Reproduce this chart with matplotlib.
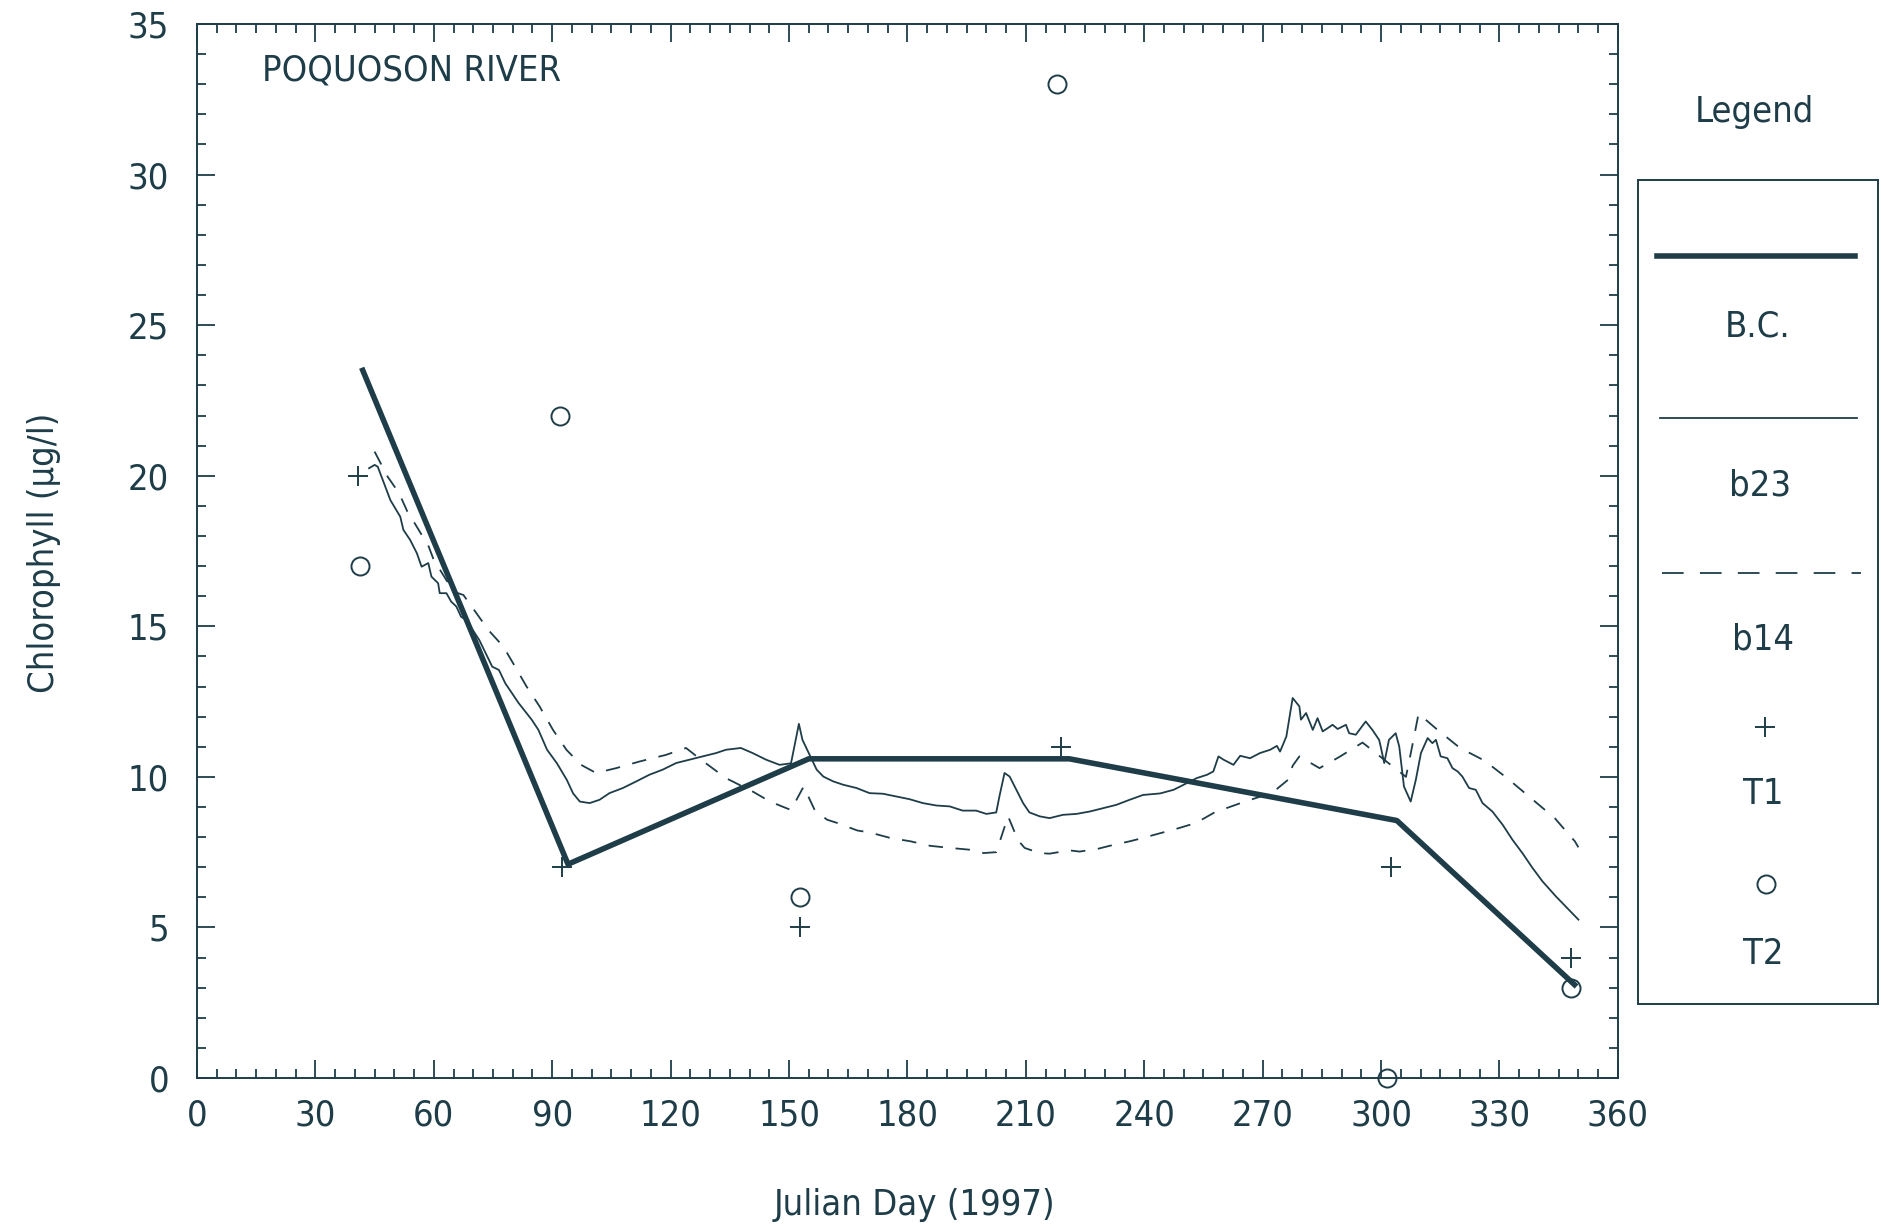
import numpy as np
import matplotlib
matplotlib.use("Agg")
import matplotlib.pyplot as plt
from matplotlib import font_manager
from matplotlib.ticker import MultipleLocator

# ---- data ----
bc_day = [42, 94, 155, 221, 304, 349]
bc_val = [23.5, 7.1, 10.6, 10.6, 8.55, 3.1]

b23_day = [43.6, 45.0, 45.8, 47.4, 49.0, 51.5, 52.3, 54.0, 55.7, 56.9, 58.6, 59.4,
           61.1, 61.5, 63.2, 64.4, 65.7, 66.9, 68.2, 71.5, 74.8, 76.5, 78.1, 81.5,
           84.8, 86.5, 88.7, 91.2, 93.7, 95.3, 97.0, 99.5, 102.0, 104.5, 107.9, 111.3,
           114.6, 118.0, 121.4, 124.7, 128.1, 131.5, 134.0, 137.8, 140.8, 144.2, 147.6,
           150.5, 152.5, 153.4, 154.6, 155.8, 157.0, 158.7, 161.2, 163.7, 167.1, 170.4,
           173.8, 177.2, 180.5, 183.9, 187.3, 190.7, 194.0, 197.4, 200.0, 202.5, 203.3,
           204.6, 205.9, 207.6, 209.3, 210.9, 213.5, 216.0, 219.4, 222.8, 226.2, 229.5,
           232.9, 236.3, 239.7, 244.0, 247.4, 249.1, 253.3, 255.9, 257.5, 258.8, 260.1,
           262.6, 264.3, 266.8, 269.3, 271.9, 273.6, 274.4, 276.0, 277.6, 279.3, 279.7,
           281.0, 282.7, 283.9, 285.2, 286.5, 287.7, 289.0, 291.1, 291.9, 293.6, 296.1,
           297.8, 299.5, 299.9, 300.8, 302.0, 303.7, 304.6, 305.8, 307.5, 308.8, 310.1,
           311.8, 313.0, 313.9, 315.1, 316.8, 318.1, 319.4, 320.6, 322.3, 324.0, 325.7,
           328.2, 330.8, 333.3, 335.8, 338.4, 340.9, 344.3, 350.0]
b23_val = [20.25, 20.36, 20.3, 19.75, 19.19, 18.64, 18.2, 17.87, 17.43, 16.98, 17.1, 16.65,
           16.43, 16.1, 16.1, 15.82, 15.66, 15.32, 15.21, 14.55, 13.66, 13.55, 13.11, 12.45,
           11.9, 11.56, 10.9, 10.45, 9.9, 9.45, 9.18, 9.13, 9.24, 9.46, 9.63, 9.85,
           10.07, 10.24, 10.46, 10.57, 10.68, 10.79, 10.9, 10.96, 10.79, 10.57, 10.4,
           10.45, 11.76, 11.23, 10.9, 10.57, 10.24, 10.01, 9.85, 9.74, 9.63, 9.46,
           9.44, 9.35, 9.26, 9.13, 9.05, 9.02, 8.88, 8.88, 8.77, 8.82, 9.35,
           10.13, 10.01, 9.57, 9.13, 8.82, 8.69, 8.63, 8.74, 8.77, 8.85, 8.96,
           9.07, 9.24, 9.4, 9.45, 9.57, 9.68, 9.96, 10.07, 10.18, 10.68, 10.57,
           10.4, 10.7, 10.62, 10.79, 10.9, 11.03, 10.84, 11.34, 12.62, 12.34, 11.9,
           12.12, 11.56, 11.95, 11.51, 11.62, 11.73, 11.59, 11.73, 11.45, 11.4, 11.84,
           11.56, 11.23, 11.01, 10.46, 11.23, 11.45, 11.01, 9.68, 9.18, 9.9, 10.79,
           11.29, 11.12, 11.23, 10.68, 10.62, 10.29, 10.18, 10.01, 9.63, 9.57, 9.13,
           8.85, 8.41, 7.91, 7.47, 6.97, 6.53, 6.03, 5.26]

b14_day = [45.0, 48.3, 51.2, 53.3, 55.4, 58.7, 60.0, 61.6, 65.0, 67.5, 70.5, 73.8,
           77.6, 80.6, 83.5, 86.8, 90.2, 93.6, 97.3, 101.1, 106.2, 112.1, 118.8, 123.9,
           127.7, 134.0, 140.7, 145.2, 148.2, 150.5, 153.7, 156.5, 159.6, 162.2, 167.3,
           170.6, 175.7, 180.8, 185.8, 190.9, 195.9, 199.3, 202.5, 205.5, 208.0, 209.7,
           213.5, 216.0, 221.0, 223.6, 227.9, 231.2, 236.3, 239.6, 244.6, 248.8, 253.1,
           257.8, 264.2, 272.5, 276.4, 277.6, 279.3, 284.4, 289.4, 295.3, 300.5, 306.3,
           307.7, 309.5, 314.5, 320.0, 326.2, 332.2, 338.1, 344.0, 349.1, 350.0]
b14_val = [20.8, 19.97, 19.42, 18.81, 18.37, 17.65, 17.2, 16.87, 16.15, 16.04, 15.49, 14.88,
           14.33, 13.66, 13.0, 12.34, 11.56, 10.9, 10.4, 10.13, 10.29, 10.51, 10.73, 10.96,
           10.57, 9.96, 9.52, 9.18, 9.02, 8.9, 9.68, 8.9, 8.58, 8.47, 8.22,
           8.15, 7.97, 7.86, 7.71, 7.64, 7.58, 7.47, 7.5, 8.69, 7.9, 7.64,
           7.47, 7.45, 7.56, 7.52, 7.6, 7.71, 7.86, 7.97, 8.15, 8.3, 8.47,
           8.82, 9.12, 9.48, 9.9, 10.37, 10.68, 10.29, 10.66, 11.14, 10.6, 10.0,
           10.9, 12.1, 11.54, 10.96, 10.54, 9.93, 9.28, 8.63, 7.86, 7.66]

t1_day = [40.7, 92.5, 152.8, 218.8, 302.4, 348.1]
t1_val = [20.0, 7.0, 5.0, 11.0, 7.0, 4.0]

t2_day = [41.2, 92.1, 152.9, 217.9, 301.6, 348.0]
t2_val = [17.0, 22.0, 6.0, 33.0, 0.0, 3.0]

INK = '#1e3d48'


def pick_font():
    # the original uses a thin, narrow plotter font: look for a condensed face
    fonts = font_manager.fontManager.ttflist
    for name in ['Liberation Sans Narrow', 'DejaVu Sans', 'Open Sans', 'Roboto',
                 'Noto Sans', 'Liberation Sans']:
        for f in fonts:
            if (f.name == name and f.style == 'normal'
                    and f.stretch in ('condensed', 'semi-condensed')
                    and f.weight in (300, 400, 'normal', 'light')):
                return font_manager.FontProperties(fname=f.fname), 26
        if name == 'Liberation Sans Narrow':
            for f in fonts:
                if f.name == name and f.style == 'normal':
                    return font_manager.FontProperties(fname=f.fname), 28
    return font_manager.FontProperties(family='DejaVu Sans'), 25


fp, fs = pick_font()
fp.set_size(fs)

fig = plt.figure(figsize=(18.85, 12.26), dpi=100)
ax = fig.add_axes([0.1045, 0.1207, 0.7538, 0.8597])

# model runs
ax.plot(b14_day, b14_val, color=INK, lw=1.3, dashes=(8, 7))
ax.plot(b23_day, b23_val, color=INK, lw=1.3)
ax.plot(bc_day, bc_val, color=INK, lw=4.0, solid_joinstyle='round')

# observations
ax.plot(t1_day, t1_val, ls='none', marker='+', ms=14, mew=1.4, color=INK)
ax.plot(t2_day, t2_val, ls='none', marker='o', ms=13, mew=1.4, mfc='none', mec=INK,
        clip_on=False)

# axis cosmetics
ax.set_xlim(0, 360)
ax.set_ylim(0, 35)
ax.xaxis.set_major_locator(MultipleLocator(30))
ax.xaxis.set_minor_locator(MultipleLocator(5))
ax.yaxis.set_major_locator(MultipleLocator(5))
ax.yaxis.set_minor_locator(MultipleLocator(1))
ax.tick_params(which='both', direction='in', top=True, right=True, width=1.3,
               colors=INK)
ax.tick_params(which='major', length=13)
ax.tick_params(which='minor', length=6.5)
ax.tick_params(axis='x', pad=15)
ax.tick_params(axis='y', pad=20)
for lab in ax.get_xticklabels() + ax.get_yticklabels():
    lab.set_fontproperties(fp)
for sp in ax.spines.values():
    sp.set_color(INK)
    sp.set_linewidth(1.4)

ax.set_xlabel('Julian Day (1997)', fontproperties=fp, color=INK)
ax.xaxis.set_label_coords(0.5046, -0.104)
ax.set_ylabel('Chlorophyll (\u03bcg/l)', fontproperties=fp, color=INK)
ax.yaxis.set_label_coords(-0.096, 0.498)

ax.text(0.0457, 0.956, 'POQUOSON RIVER', transform=ax.transAxes, fontproperties=fp,
        color=INK, ha='left', va='center')

# legend box drawn by hand (label sits under each symbol)
fig.text(0.931, 0.9086, 'Legend', fontproperties=fp, color=INK, ha='center', va='center')
lax = fig.add_axes([0.869, 0.181, 0.1273, 0.672])
lax.set_xlim(0, 1)
lax.set_ylim(0, 1)
lax.set_xticks([])
lax.set_yticks([])
for sp in lax.spines.values():
    sp.set_color(INK)
    sp.set_linewidth(1.4)

lax.plot([0.08, 0.905], [0.908, 0.908], color=INK, lw=4.0)
lax.text(0.5, 0.822, 'B.C.', fontproperties=fp, color=INK, ha='center', va='center')
lax.plot([0.09, 0.913], [0.711, 0.711], color=INK, lw=1.3)
lax.text(0.51, 0.63, 'b23', fontproperties=fp, color=INK, ha='center', va='center')
lax.plot([0.10, 0.93], [0.523, 0.523], color=INK, lw=1.3, dashes=(12, 9))
lax.text(0.52, 0.442, 'b14', fontproperties=fp, color=INK, ha='center', va='center')
lax.plot([0.53], [0.336], ls='none', marker='+', ms=14, mew=1.4, color=INK)
lax.text(0.52, 0.255, 'T1', fontproperties=fp, color=INK, ha='center', va='center')
lax.plot([0.535], [0.146], ls='none', marker='o', ms=13, mew=1.4, mfc='none', mec=INK)
lax.text(0.52, 0.061, 'T2', fontproperties=fp, color=INK, ha='center', va='center')

plt.savefig('out.png', dpi=100, facecolor='white')
